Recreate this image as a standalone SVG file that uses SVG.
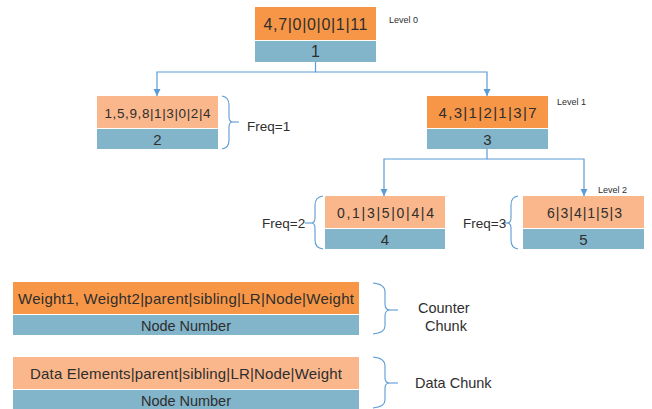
<svg xmlns="http://www.w3.org/2000/svg" width="652" height="409" viewBox="0 0 652 409">
  <style>
    .dark { fill: #F79646; }
    .light { fill: #FAB78B; }
    .num { fill: #82B4CA; }
    .t { font-family: "Liberation Sans", Arial, sans-serif; fill: #2E2E2E; text-anchor: middle; }
    .lbl { font-family: "Liberation Sans", Arial, sans-serif; fill: #2E2E2E; }
    .wire { fill: none; stroke: #5B9BD5; stroke-width: 1.2; }
    .brace { fill: none; stroke: #5B9BD5; stroke-width: 1.1; }
  </style>
  <defs>
    <marker id="arrow" viewBox="0 0 10 10" refX="10" refY="5" markerWidth="6" markerHeight="6" orient="auto">
      <path d="M0,0 L10,5 L0,10 z" fill="#5B9BD5"/>
    </marker>
  </defs>
  <rect width="652" height="409" fill="#ffffff"/>

  <!-- tree connectors -->
  <g id="connectors">
    <path class="wire" d="M315.5,62 V72 H157 V96" marker-end="url(#arrow)"/>
    <path class="wire" d="M315.5,72 H487 V96" marker-end="url(#arrow)"/>
    <path class="wire" d="M487,149 V159 H384 V196" marker-end="url(#arrow)"/>
    <path class="wire" d="M487,159 H584 V196" marker-end="url(#arrow)"/>
  </g>

  <!-- node 1 (level 0) -->
  <g id="node1">
    <rect class="dark" x="255" y="7" width="121" height="33"/>
    <rect class="num" x="255" y="41" width="121" height="21"/>
    <text class="t" x="315.5" y="30" font-size="16" textLength="104" lengthAdjust="spacing">4,7|0|0|0|1|11</text>
    <text class="t" x="315.5" y="57" font-size="16">1</text>
    <text class="lbl" x="389" y="23" font-size="9">Level 0</text>
  </g>

  <!-- node 2 -->
  <g id="node2">
    <rect class="light" x="97" y="96" width="121" height="32"/>
    <rect class="num" x="97" y="129" width="121" height="20"/>
    <text class="t" x="157.5" y="118" font-size="13.5" textLength="106" lengthAdjust="spacing">1,5,9,8|1|3|0|2|4</text>
    <text class="t" x="157.5" y="145" font-size="15">2</text>
    <path class="brace" d="M222,96 Q229,97 229,105 V117 Q229,122 233,122 Q229,122 229,127 V140 Q229,148 222,149"/>
    <line class="brace" x1="233" y1="122" x2="239" y2="122"/>
    <text class="lbl" x="247" y="131" font-size="13.5">Freq=1</text>
  </g>

  <!-- node 3 (level 1) -->
  <g id="node3">
    <rect class="dark" x="427" y="96" width="121" height="32"/>
    <rect class="num" x="427" y="129" width="121" height="20"/>
    <text class="t" x="487.5" y="118" font-size="15" textLength="98" lengthAdjust="spacing">4,3|1|2|1|3|7</text>
    <text class="t" x="487.5" y="145" font-size="15">3</text>
    <text class="lbl" x="557" y="105" font-size="9">Level 1</text>
  </g>

  <!-- node 4 -->
  <g id="node4">
    <rect class="light" x="325" y="196" width="120" height="32"/>
    <rect class="num" x="325" y="229" width="120" height="20"/>
    <text class="t" x="385.5" y="218" font-size="14" textLength="97" lengthAdjust="spacing">0,1|3|5|0|4|4</text>
    <text class="t" x="385" y="245" font-size="15">4</text>
    <path class="brace" d="M323,196 Q315,197 315,205 V218 Q315,223 311,223 Q315,223 315,228 V240 Q315,248 323,249"/>
    <line class="brace" x1="305" y1="223" x2="311" y2="223"/>
    <text class="lbl" x="262" y="228" font-size="13.5">Freq=2</text>
  </g>

  <!-- node 5 (level 2) -->
  <g id="node5">
    <rect class="light" x="523" y="196" width="121" height="32"/>
    <rect class="num" x="523" y="229" width="121" height="20"/>
    <text class="t" x="584.5" y="218" font-size="14" textLength="75" lengthAdjust="spacing">6|3|4|1|5|3</text>
    <text class="t" x="583.5" y="245" font-size="15">5</text>
    <path class="brace" d="M518,196 Q511,197 511,205 V218 Q511,223 507,223 Q511,223 511,228 V240 Q511,248 518,249"/>
    <line class="brace" x1="503" y1="223" x2="507" y2="223"/>
    <text class="lbl" x="463" y="228" font-size="13.5">Freq=3</text>
    <text class="lbl" x="598" y="193" font-size="9">Level 2</text>
  </g>

  <!-- legend: counter chunk layout -->
  <g id="counter-chunk">
    <rect class="dark" x="13" y="282" width="346" height="32"/>
    <rect class="num" x="13" y="315" width="346" height="20"/>
    <text class="t" x="186" y="304" font-size="15" textLength="336" lengthAdjust="spacing">Weight1, Weight2|parent|sibling|LR|Node|Weight</text>
    <text class="t" x="186" y="331" font-size="14.5" textLength="90" lengthAdjust="spacing">Node Number</text>
    <path class="brace" d="M373,283 Q385,284 385,292 V304 Q385,310 390,310 Q385,310 385,316 V326 Q385,333 373,334"/>
    <line class="brace" x1="390" y1="310" x2="398" y2="310"/>
    <text class="lbl" x="418" y="313" font-size="14.5">Counter</text>
    <text class="lbl" x="425" y="331" font-size="14.5">Chunk</text>
  </g>

  <!-- legend: data chunk layout -->
  <g id="data-chunk">
    <rect class="light" x="13" y="357" width="346" height="32"/>
    <rect class="num" x="13" y="390" width="346" height="19"/>
    <text class="t" x="186" y="379" font-size="15" textLength="312" lengthAdjust="spacing">Data Elements|parent|sibling|LR|Node|Weight</text>
    <text class="t" x="186" y="406" font-size="14.5" textLength="90" lengthAdjust="spacing">Node Number</text>
    <path class="brace" d="M373,357 Q385,358 385,366 V378 Q385,383 390,383 Q385,383 385,388 V400 Q385,407 373,408"/>
    <line class="brace" x1="390" y1="383" x2="398" y2="383"/>
    <text class="lbl" x="415" y="388" font-size="14.5">Data Chunk</text>
  </g>
</svg>
